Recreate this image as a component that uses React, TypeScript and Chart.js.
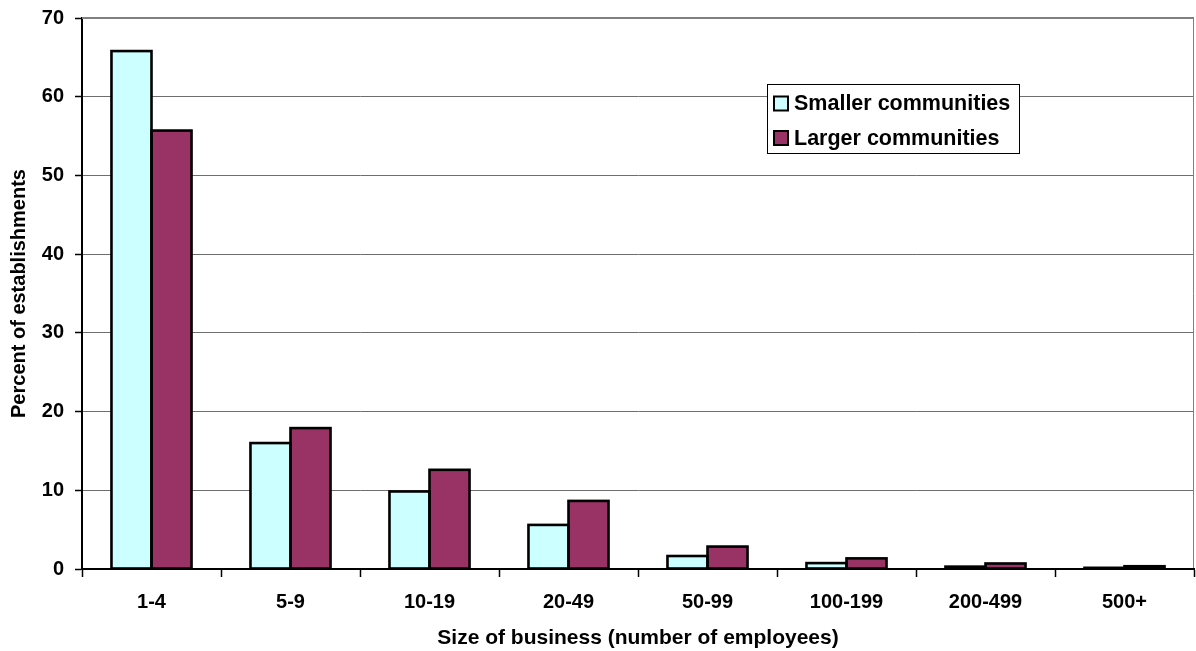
import React, { useEffect, useRef } from "react";
import { Chart, registerables } from "chart.js";

Chart.register(...registerables);

const categories = ["1-4", "5-9", "10-19", "20-49", "50-99", "100-199", "200-499", "500+"];
const smallerCommunities = [65.8, 16.0, 9.85, 5.6, 1.65, 0.75, 0.3, 0.15];
const largerCommunities = [55.7, 17.9, 12.6, 8.65, 2.85, 1.35, 0.7, 0.35];
const seriesLabels = ["Smaller communities", "Larger communities"];
const yTitle = "Percent of establishments";
const xTitle = "Size of business (number of employees)";

const FONT = "'Liberation Sans', Arial, sans-serif";

const framePlugin = {
  id: "frame",
  beforeDatasetsDraw(chart: any) {
    const { ctx, chartArea } = chart;
    ctx.save();
    ctx.strokeStyle = "#808080";
    ctx.lineWidth = 1;
    ctx.beginPath();
    ctx.moveTo(chartArea.right - 0.5, chartArea.top);
    ctx.lineTo(chartArea.right - 0.5, chartArea.bottom);
    ctx.stroke();
    ctx.lineWidth = 2;
    ctx.beginPath();
    ctx.moveTo(chartArea.left, chartArea.top);
    ctx.lineTo(chartArea.right, chartArea.top);
    ctx.stroke();
    ctx.restore();
  },
};

// Excel-style outlines: stroke centred on the bar edges
const outlinePlugin = {
  id: "outline",
  afterDatasetsDraw(chart: any) {
    const { ctx } = chart;
    ctx.save();
    ctx.strokeStyle = "#000";
    ctx.lineWidth = 2.6;
    ctx.lineJoin = "miter";
    chart.data.datasets.forEach((_: any, i: number) => {
      const meta = chart.getDatasetMeta(i);
      meta.data.forEach((bar: any) => {
        const p = bar.getProps(["x", "y", "base", "width"], true);
        const left = p.x - p.width / 2;
        const top = Math.min(p.y, p.base);
        const h = Math.abs(p.base - p.y);
        ctx.strokeRect(left, top, p.width, h);
      });
    });
    ctx.restore();
  },
};

const boxLegendPlugin = {
  id: "boxLegend",
  afterDraw(chart: any) {
    const { ctx } = chart;
    const x0 = 767, y0 = 84, w = 252, h = 69;
    ctx.save();
    ctx.fillStyle = "#ffffff";
    ctx.fillRect(x0, y0, w, h);
    ctx.strokeStyle = "#000000";
    ctx.lineWidth = 1;
    ctx.strokeRect(x0 + 0.5, y0 + 0.5, w, h);
    ctx.font = `bold 21.5px ${FONT}`;
    ctx.textBaseline = "middle";
    ctx.textAlign = "left";
    const rows = [103.5, 138];
    chart.data.datasets.forEach((ds: any, i: number) => {
      const cy = rows[i];
      ctx.fillStyle = ds.backgroundColor;
      ctx.fillRect(774, cy - 7, 14, 14);
      ctx.strokeStyle = "#000";
      ctx.lineWidth = 2;
      ctx.strokeRect(774, cy - 7, 14, 14);
      ctx.fillStyle = "#000";
      ctx.fillText(ds.label, 794, cy + 1);
    });
    ctx.restore();
  },
};

export default function App() {
  const ref = useRef<HTMLCanvasElement>(null);
  useEffect(() => {
    document.body.style.margin = "0";
    const canvas = ref.current!;
    const chart = new Chart(canvas, {
      type: "bar",
      data: {
        labels: categories,
        datasets: [
          {
            label: seriesLabels[0],
            data: smallerCommunities,
            backgroundColor: "#CCFFFF",
            borderWidth: 0,
            categoryPercentage: 0.576,
            barPercentage: 1,
          },
          {
            label: seriesLabels[1],
            data: largerCommunities,
            backgroundColor: "#993366",
            borderWidth: 0,
            categoryPercentage: 0.576,
            barPercentage: 1,
          },
        ],
      },
      options: {
        responsive: false,
        animation: false,
        devicePixelRatio: 1,
        layout: { padding: { top: 18, right: 2, left: 0, bottom: 0 } },
        plugins: {
          legend: { display: false },
          tooltip: { enabled: false },
        },
        scales: {
          x: {
            offset: true,
            grid: {
              display: true,
              drawOnChartArea: false,
              drawTicks: true,
              tickLength: 8,
              tickColor: "#000",
              tickWidth: 1.5,
              offset: true,
            },
            border: { display: true, color: "#000", width: 2, z: 1 },
            ticks: {
              color: "#000",
              font: { family: FONT, size: 20, weight: "bold" },
              padding: 13,
              maxRotation: 0,
              autoSkip: false,
            },
            title: {
              display: true,
              text: xTitle,
              color: "#000",
              font: { family: FONT, size: 21, weight: "bold" },
              padding: { top: 0, bottom: 0 },
            },
            afterFit(scale: any) {
              scale.height = 82;
              scale.paddingLeft = 0;
              scale.paddingRight = 0;
            },
          },
          y: {
            min: 0,
            max: 70,
            ticks: {
              stepSize: 10,
              color: "#000",
              font: { family: FONT, size: 20, weight: "bold" },
              padding: 11,
            },
            grid: {
              color: "#6e6e6e",
              lineWidth: 1,
              drawTicks: true,
              tickLength: 7,
              tickColor: "#000",
              tickWidth: 1.5,
            },
            border: { display: true, color: "#000", width: 2 },
            title: {
              display: true,
              text: yTitle,
              color: "#000",
              font: { family: FONT, size: 20, weight: "bold" },
              padding: { top: 7, bottom: 0 },
            },
            afterFit(scale: any) {
              scale.width = 82;
              scale.paddingTop = 0;
              scale.paddingBottom = 0;
            },
          },
        },
      },
      plugins: [framePlugin, outlinePlugin, boxLegendPlugin],
    });
    return () => chart.destroy();
  }, []);
  return (
    <div style={{ width: 1196, height: 651 }}>
      <canvas ref={ref} width={1196} height={651} style={{ display: "block" }} />
    </div>
  );
}
